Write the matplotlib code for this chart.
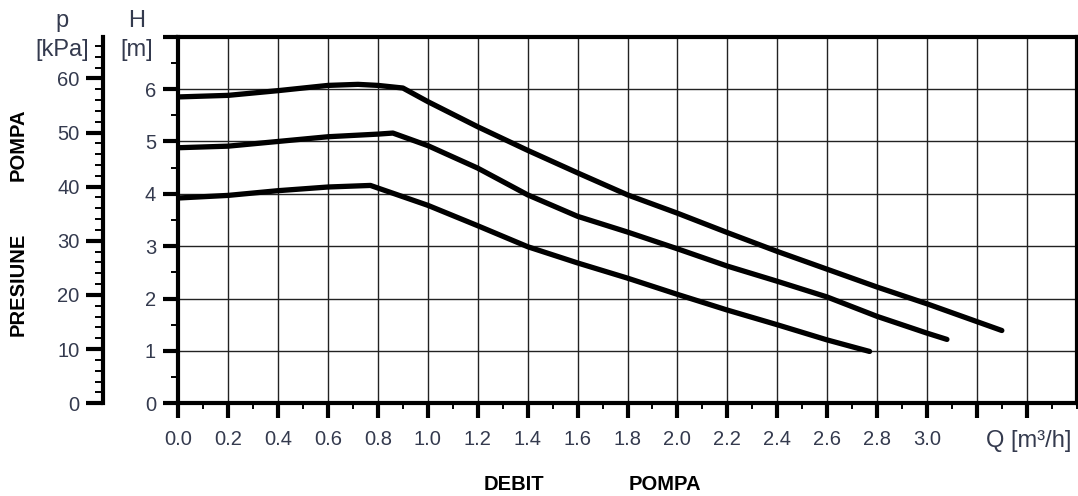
import matplotlib
matplotlib.use("Agg")
import matplotlib.pyplot as plt
from matplotlib.ticker import FixedLocator, MultipleLocator

# pump curves: flow Q [m3/h] vs head H [m], three speed settings
top_q = [0.0, 0.2, 0.4, 0.6, 0.72, 0.8, 0.9, 1.0, 1.2, 1.4, 1.6, 1.8, 2.0, 2.2, 2.4, 2.6, 2.8, 3.0, 3.2, 3.3]
top_h = [5.85, 5.88, 5.97, 6.07, 6.09, 6.07, 6.02, 5.76, 5.28, 4.83, 4.40, 3.98, 3.63, 3.26, 2.90, 2.56, 2.22, 1.90, 1.56, 1.39]

mid_q = [0.0, 0.2, 0.4, 0.6, 0.8, 0.86, 1.0, 1.2, 1.4, 1.6, 1.8, 2.0, 2.2, 2.4, 2.6, 2.8, 3.0, 3.08]
mid_h = [4.88, 4.91, 5.00, 5.09, 5.14, 5.16, 4.92, 4.49, 3.98, 3.57, 3.27, 2.95, 2.62, 2.33, 2.03, 1.66, 1.34, 1.22]

low_q = [0.0, 0.2, 0.4, 0.6, 0.77, 0.8, 1.0, 1.2, 1.4, 1.6, 1.8, 2.0, 2.2, 2.4, 2.6, 2.77]
low_h = [3.92, 3.97, 4.06, 4.13, 4.16, 4.11, 3.78, 3.39, 2.99, 2.68, 2.39, 2.08, 1.78, 1.50, 1.21, 0.99]

q_ticks = [0.0, 0.2, 0.4, 0.6, 0.8, 1.0, 1.2, 1.4, 1.6, 1.8, 2.0, 2.2, 2.4, 2.6, 2.8, 3.0, 3.2, 3.4]
q_labels = ["0.0", "0.2", "0.4", "0.6", "0.8", "1.0", "1.2", "1.4", "1.6", "1.8",
            "2.0", "2.2", "2.4", "2.6", "2.8", "3.0", "", ""]
h_ticks = [0, 1, 2, 3, 4, 5, 6, 7]
h_labels = ["0", "1", "2", "3", "4", "5", "6", ""]
p_ticks = [0, 10, 20, 30, 40, 50, 60]

KPA_PER_M = 9.67
LABEL_COLOR = "#343a4e"

plt.rcParams["font.family"] = ["Liberation Sans", "DejaVu Sans"]

W, HPX = 1078, 496
fig = plt.figure(figsize=(W / 100, HPX / 100), dpi=100)
ax = fig.add_axes([178.3 / W, 1 - 403.3 / HPX, (1076.7 - 178.3) / W, (403.3 - 36.7) / HPX])

for q, h in [(top_q, top_h), (mid_q, mid_h), (low_q, low_h)]:
    ax.plot(q, h, color="black", lw=3.8, solid_capstyle="round", solid_joinstyle="round", zorder=3)

ax.set_xlim(0, 3.6)
ax.set_ylim(0, 7)

ax.xaxis.set_major_locator(FixedLocator(q_ticks))
ax.set_xticklabels(q_labels)
ax.xaxis.set_minor_locator(MultipleLocator(0.1))
ax.yaxis.set_major_locator(FixedLocator(h_ticks))
ax.set_yticklabels(h_labels)
ax.yaxis.set_minor_locator(MultipleLocator(0.5))

ax.grid(True, which="major", color="#222222", lw=1.0)
ax.set_axisbelow(True)

for s in ax.spines.values():
    s.set_linewidth(3)

ax.tick_params(axis="both", which="major", length=11, width=3, labelsize=14.5,
               labelcolor=LABEL_COLOR, direction="out")
ax.tick_params(axis="x", which="major", pad=8)
ax.tick_params(axis="y", which="major", pad=5)
ax.tick_params(axis="both", which="minor", length=4, width=1.4)
ax.tick_params(axis="y", which="minor", length=5)

# pressure scale on a second spine to the left
sec = ax.secondary_yaxis(-0.0835, functions=(lambda h: h * KPA_PER_M, lambda p: p / KPA_PER_M))
sec.set_yticks(p_ticks)
sec.yaxis.set_minor_locator(MultipleLocator(2))
sec.spines["left"].set_linewidth(3)
sec.tick_params(which="major", length=12, width=3, labelsize=14.5, labelcolor=LABEL_COLOR, pad=5)
sec.tick_params(which="minor", length=6, width=1.4)

# axis titles
fig.text(62 / W, 1 - 21 / HPX, "p", ha="center", va="center", fontsize=17, color=LABEL_COLOR)
fig.text(62 / W, 1 - 50 / HPX, "[kPa]", ha="center", va="center", fontsize=17, color=LABEL_COLOR)
fig.text(137 / W, 1 - 21 / HPX, "H", ha="center", va="center", fontsize=17, color=LABEL_COLOR)
fig.text(137 / W, 1 - 50 / HPX, "[m]", ha="center", va="center", fontsize=17, color=LABEL_COLOR)
fig.text(1029 / W, 1 - 441 / HPX, "Q [m³/h]", ha="center", va="center", fontsize=17, color=LABEL_COLOR)

fig.text(18.5 / W, 1 - 145 / HPX, "POMPA", rotation=90, ha="center", va="center",
         fontsize=14.5, fontweight="bold", color="black")
fig.text(18.5 / W, 1 - 284 / HPX, "PRESIUNE", rotation=90, ha="center", va="center",
         fontsize=14.5, fontweight="bold", color="black")
fig.text(514 / W, 1 - 484 / HPX, "DEBIT", ha="center", va="center",
         fontsize=14.5, fontweight="bold", color="black")
fig.text(665 / W, 1 - 484 / HPX, "POMPA", ha="center", va="center",
         fontsize=14.5, fontweight="bold", color="black")

fig.savefig("out.png", dpi=100)
